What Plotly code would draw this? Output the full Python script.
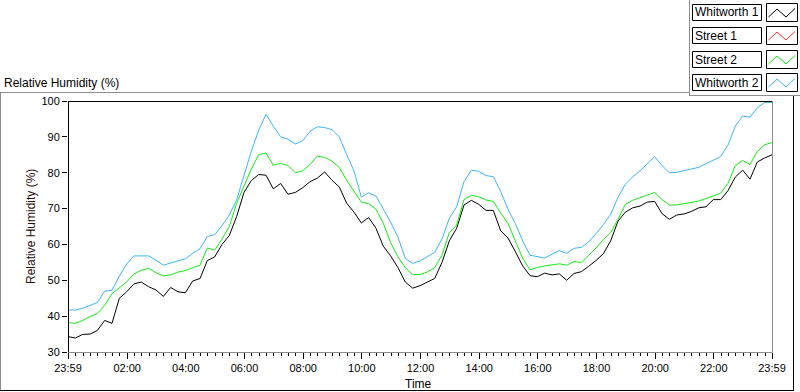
import plotly.graph_objects as go

W, H = 800, 392

# ---------------- data ----------------
series_names = ["Whitworth 1", "Street 1", "Street 2", "Whitworth 2"]
series_colors = ["#000000", "#ff3030", "#14ec14", "#3cb6f5"]

# sample times, hours after 23:59 (15-minute samples)
hours = [i / 4 for i in range(97)]

whitworth1 = [
    34.3, 33.9, 34.9, 35.0, 36.0, 38.8, 38.0, 45.0, 46.8, 49.0, 49.5, 48.2,
    47.3, 45.5, 48.0, 46.8, 46.5, 49.8, 50.5, 55.5, 56.5, 60.0, 62.5, 67.8,
    74.5, 77.8, 79.5, 79.3, 75.5, 77.0, 74.0, 74.5, 75.8, 77.5, 78.5, 80.2,
    77.9, 76.0, 71.5, 69.0, 66.0, 67.5, 64.5, 59.5, 56.8, 53.5, 49.5, 47.8,
    48.5, 49.5, 50.5, 55.0, 61.0, 64.5, 71.0, 72.3, 71.2, 69.5, 69.5, 63.8,
    61.8, 58.0, 54.0, 51.3, 51.0, 52.0, 51.5, 51.8, 50.0, 51.9, 52.4, 53.9,
    55.5, 57.4, 61.0, 66.5, 69.0, 70.2, 70.7, 71.8, 72.0, 68.6, 67.0, 68.2,
    68.5, 69.2, 70.2, 70.5, 72.5, 72.5, 75.0, 78.8, 80.7, 78.2, 83.0, 84.1,
    85.0,
]

street1 = []  # no samples visible in the chart

street2 = [
    38.2, 38.0, 38.8, 39.9, 40.7, 43.0, 46.3, 47.8, 49.5, 51.8, 52.8, 53.3,
    52.1, 51.2, 51.5, 52.3, 52.7, 53.5, 54.2, 59.0, 58.4, 61.5, 65.0, 71.5,
    76.5, 81.0, 85.0, 85.5, 82.1, 82.6, 82.0, 80.0, 80.5, 82.3, 84.6, 84.3,
    83.2, 81.5, 77.9, 74.8, 71.8, 71.4, 69.8, 65.9, 60.5, 56.5, 53.5, 51.6,
    51.6, 52.3, 53.5, 57.0, 63.3, 65.4, 72.5, 73.7, 73.3, 72.4, 72.0, 68.8,
    65.8, 61.0, 56.2, 52.9, 53.6, 54.0, 54.4, 54.6, 54.2, 55.2, 55.0, 57.0,
    59.0, 61.3, 63.3, 67.0, 71.2, 72.3, 73.0, 73.8, 74.5, 72.5, 71.0, 71.0,
    71.4, 71.7, 72.1, 72.8, 73.5, 74.3, 77.0, 82.0, 83.4, 82.3, 85.9, 87.8,
    88.4,
]

whitworth2 = [
    41.7, 41.7, 42.2, 42.9, 43.8, 47.0, 47.2, 51.2, 54.5, 56.8, 56.7, 56.8,
    55.6, 54.2, 54.8, 55.5, 56.0, 57.5, 58.8, 62.2, 62.7, 65.2, 68.2, 72.5,
    79.0, 86.0, 91.8, 96.3, 93.0, 90.0, 89.4, 88.0, 88.9, 91.5, 92.8, 92.6,
    92.0, 90.0, 85.0, 80.5, 73.2, 74.4, 73.5, 69.8, 66.2, 62.0, 56.1, 54.7,
    55.4, 56.6, 57.8, 61.5, 67.3, 70.5, 77.5, 80.7, 80.4, 79.2, 78.9, 74.8,
    69.8, 65.8, 61.0, 57.0, 56.6, 56.2, 57.3, 58.3, 57.5, 58.9, 59.2, 60.7,
    63.0, 65.5, 68.4, 73.1, 76.8, 78.8, 80.5, 82.5, 84.5, 82.0, 80.0, 80.1,
    80.5, 80.9, 81.5, 82.5, 83.6, 84.5, 87.7, 93.0, 95.8, 95.5, 98.1, 99.6,
    99.6,
]

x_tick_hours = [0, 2 + 1/60, 4 + 1/60, 6 + 1/60, 8 + 1/60, 10 + 1/60, 12 + 1/60,
                14 + 1/60, 16 + 1/60, 18 + 1/60, 20 + 1/60, 22 + 1/60, 24]
x_tick_labels = ["23:59", "02:00", "04:00", "06:00", "08:00", "10:00", "12:00",
                 "14:00", "16:00", "18:00", "20:00", "22:00", "23:59"]
y_ticks = [30, 40, 50, 60, 70, 80, 90, 100]

chart_title = "Relative Humidity (%)"
x_title = "Time"
y_title = "Relative Humidity (%)"

# ---------------- layout helpers ----------------
FONT = "Liberation Sans"
PL, PR, PT, PB = 68, 772, 101, 352


def fx(x):
    return x / W


def fy(y):
    return 1 - y / H


def hline(y, x0, x1, color):
    return dict(type="line", xref="paper", yref="paper", x0=fx(x0), x1=fx(x1),
                y0=fy(y), y1=fy(y), line=dict(color=color, width=1))


def vline(x, y0, y1, color):
    return dict(type="line", xref="paper", yref="paper", x0=fx(x), x1=fx(x),
                y0=fy(y0), y1=fy(y1), line=dict(color=color, width=1))


fig = go.Figure()
all_series = [whitworth1, street1, street2, whitworth2]
for name, color, vals in zip(series_names, series_colors, all_series):
    fig.add_trace(go.Scatter(x=hours[:len(vals)], y=vals, mode="lines", name=name,
                             line=dict(color=color, width=1), showlegend=False))

GRAY = "#8c8c8c"
shapes = [
    # plot frame
    vline(PL + 0.5, PT, PB + 0.5, "#000000"),
    hline(PT + 0.5, PL, PR + 0.5, "#000000"),
    vline(PR + 0.5, PT, PB + 0.5, GRAY),
    hline(PB + 0.5, PL, PR + 0.5, GRAY),
    # outer frame
    hline(92.5, 0, 689.5, GRAY),
    vline(0.5, 92, 390.5, GRAY),
    hline(390.5, 0, 794, "#000000"),
    vline(793.5, 96, 391, "#000000"),
    # legend frame
    vline(689.5, 0, 96, GRAY),
    hline(95.5, 689.5, 800, GRAY),
]

annotations = [
    dict(text=chart_title, x=fx(2), y=fy(82.5), xref="paper", yref="paper",
         xanchor="left", yanchor="middle", showarrow=False,
         font=dict(family=FONT, size=12, color="#000000")),
    dict(text=x_title, x=fx(418), y=fy(384), xref="paper", yref="paper",
         xanchor="center", yanchor="middle", showarrow=False,
         font=dict(family=FONT, size=12, color="#000000")),
    dict(text=y_title, x=fx(31.5), y=fy(226.5), xref="paper", yref="paper",
         xanchor="center", yanchor="middle", showarrow=False, textangle=-90,
         font=dict(family=FONT, size=12, color="#2a0c0c")),
]

row_tops = [4, 27, 51, 74]
for name, color, top in zip(series_names, series_colors, row_tops):
    shapes.append(dict(type="rect", xref="paper", yref="paper",
                       x0=fx(692.5), x1=fx(761.5), y0=fy(top + 0.5), y1=fy(top + 16.5),
                       line=dict(color="#000000", width=1), fillcolor="#ffffff"))
    shapes.append(dict(type="rect", xref="paper", yref="paper",
                       x0=fx(766.5), x1=fx(797.5), y0=fy(top - 0.5), y1=fy(top + 17.5),
                       line=dict(color="#000000", width=1), fillcolor="#ffffff"))
    pts = [(768.5, top + 13), (777, top + 5), (786, top + 13), (795, top + 4.5)]
    path = "M " + " L ".join(f"{fx(a):.5f},{fy(b):.5f}" for a, b in pts)
    shapes.append(dict(type="path", xref="paper", yref="paper", path=path,
                       line=dict(color=color, width=1)))
    annotations.append(dict(text=name, x=fx(693), y=fy(top + 8.5), xref="paper",
                            yref="paper", xanchor="left", yanchor="middle",
                            showarrow=False,
                            font=dict(family=FONT, size=12, color="#000000")))

fig.update_layout(
    template="none",
    width=W, height=H, autosize=False,
    margin=dict(l=0, r=0, t=0, b=0, pad=0, autoexpand=False),
    paper_bgcolor="#ffffff", plot_bgcolor="#ffffff",
    shapes=shapes, annotations=annotations,
    hovermode=False,
    xaxis=dict(domain=[fx(PL), fx(PR)], range=[0, 24], showgrid=False,
               zeroline=False, showline=False, automargin=False,
               tickmode="array", tickvals=x_tick_hours, ticktext=x_tick_labels,
               ticks="outside", ticklen=6, tickcolor="#000000", tickwidth=1,
               tickfont=dict(family=FONT, size=11, color="#000000"),
               minor=dict(tickmode="linear", tick0=2 + 1/60, dtick=0.25,
                          ticks="outside", ticklen=3, tickcolor="#000000",
                          tickwidth=1, showgrid=False)),
    yaxis=dict(domain=[fy(PB), fy(PT)], range=[30, 100], showgrid=False,
               zeroline=False, showline=False, automargin=False,
               tickmode="array", tickvals=y_ticks,
               ticks="outside", ticklen=5, tickcolor="#000000", tickwidth=1,
               tickfont=dict(family=FONT, size=11, color="#000000")),
    showlegend=False,
)

fig.write_html("out.html",
               config={"displayModeBar": False, "staticPlot": True},
               post_script="document.body.style.margin='0px';"
                           "document.body.style.overflow='hidden';")
